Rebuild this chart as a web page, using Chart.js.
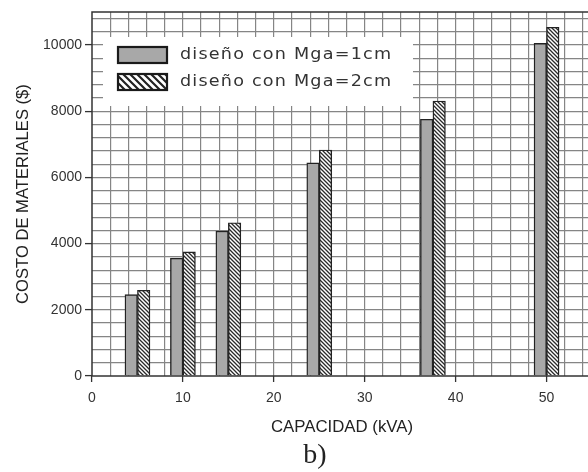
<!DOCTYPE html>
<html><head><meta charset="utf-8">
<script src="https://cdn.jsdelivr.net/npm/chart.js@4/dist/chart.umd.min.js"></script>
<style>
html,body{margin:0;padding:0;overflow:hidden;background:#fff;width:588px;height:472px}
#wrap{width:600px;height:472px;position:relative}
</style></head>
<body><div id="wrap"><canvas id="c" width="600" height="472"></canvas></div>
<script>
// ---- data ----
const capacities = [5, 10, 15, 25, 37.5, 50];
const costMga1 = [2460, 3560, 4380, 6440, 7760, 10050];
const costMga2 = [2590, 3750, 4630, 6830, 8310, 10540];
const seriesNames = ['diseño con Mga=1cm', 'diseño con Mga=2cm'];
const xTickLabels = [0, 10, 20, 30, 40, 50];
const yTickLabels = [0, 2000, 4000, 6000, 8000, 10000];
const xTitle = 'CAPACIDAD (kVA)';
const yTitle = 'COSTO DE MATERIALES ($)';
const caption = 'b)';

const SANS = '"Liberation Sans", Arial, sans-serif';

function hatch(size, lw, color) {
  const c = document.createElement('canvas');
  c.width = size; c.height = size;
  const g = c.getContext('2d');
  g.fillStyle = '#fff'; g.fillRect(0, 0, size, size);
  g.strokeStyle = color; g.lineWidth = lw;
  g.beginPath();
  g.moveTo(-1, -1); g.lineTo(size + 1, size + 1);
  g.moveTo(-1, size - 1); g.lineTo(1, size + 1);
  g.moveTo(size - 1, -1); g.lineTo(size + 1, 1);
  g.stroke();
  return document.getElementById('c').getContext('2d').createPattern(c, 'repeat');
}
const barHatch = hatch(4, 1.3, '#2a2a2a');
const legendHatch = hatch(7, 2.2, '#222');

const frame = {
  id: 'frame',
  afterDatasetsDraw(chart) {
    const {ctx, chartArea: a} = chart;
    ctx.save();
    ctx.strokeStyle = '#333'; ctx.lineWidth = 1.5;
    ctx.strokeRect(a.left, a.top, a.right - a.left, a.bottom - a.top);
    ctx.restore();
  },
  afterDraw(chart) {
    const ctx = chart.ctx;
    ctx.save();
    // legend box
    ctx.fillStyle = '#fff';
    ctx.fillRect(103, 37, 310, 69);
    const fills = ['#a8a8a8', legendHatch];
    const ys = [47, 74];
    for (let i = 0; i < 2; i++) {
      ctx.fillStyle = fills[i];
      ctx.fillRect(118, ys[i], 49, 16);
      ctx.strokeStyle = '#1a1a1a'; ctx.lineWidth = 2.2;
      ctx.strokeRect(118, ys[i], 49, 16);
      const t = seriesNames[i];
      const sx = 1.1;
      ctx.save();
      ctx.font = '16px "DejaVu Sans", sans-serif';
      ctx.textBaseline = 'middle';
      ctx.textAlign = 'left';
      ctx.letterSpacing = '0px';
      const w = ctx.measureText(t).width;
      const sp = Math.max(0, (211 / sx - w) / (t.length - 1));
      ctx.letterSpacing = sp.toFixed(2) + 'px';
      ctx.translate(180, ys[i] + 8);
      ctx.scale(sx, 1);
      ctx.fillStyle = '#333';
      ctx.fillText(t, 0, 0);
      ctx.restore();
    }
    // caption
    ctx.font = '28px "Liberation Serif", "Times New Roman", serif';
    ctx.textAlign = 'center';
    ctx.textBaseline = 'alphabetic';
    ctx.fillStyle = '#222';
    ctx.fillText(caption, 315, 463);
    ctx.restore();
  }
};

const gridColor = '#858585';

new Chart(document.getElementById('c'), {
  type: 'bar',
  data: {
    datasets: [
      {label: seriesNames[0], data: capacities.map((x, i) => ({x, y: costMga1[i]})),
       backgroundColor: '#a8a8a8', borderColor: '#222', borderWidth: 1.4, barThickness: 12.5},
      {label: seriesNames[1], data: capacities.map((x, i) => ({x, y: costMga2[i]})),
       backgroundColor: barHatch, borderColor: '#222', borderWidth: 1.4, barThickness: 12.5}
    ]
  },
  options: {
    responsive: false,
    animation: false,
    devicePixelRatio: 1,
    layout: {padding: {top: 12, right: 3, left: 0, bottom: 0}},
    plugins: {legend: {display: false}, tooltip: {enabled: false}},
    scales: {
      x: {
        type: 'linear', min: 0, max: 55, offset: false,
        afterBuildTicks(s) {
          const t = [];
          for (let v = 0; v <= 54; v += 2) t.push({value: v});
          t.push({value: 55});
          s.ticks = t;
        },
        afterFit(s) { s.height = 96; },
        grid: {
          offset: false, drawOnChartArea: true, drawTicks: true, tickLength: 6,
          color: (c) => (c.tick && (c.tick.value === 0 || c.tick.value === 55)) ? 'rgba(0,0,0,0)' : gridColor,
          lineWidth: 1.2,
          tickColor: (c) => (c.tick && xTickLabels.includes(c.tick.value)) ? '#333' : 'rgba(0,0,0,0)',
          tickWidth: 1.3
        },
        border: {display: false},
        ticks: {
          autoSkip: false, maxRotation: 0, padding: 8, color: '#333',
          font: {family: SANS, size: 14},
          callback: (v) => xTickLabels.includes(v) ? String(v) : ''
        },
        title: {display: true, text: xTitle, color: '#222', font: {family: SANS, size: 16.8},
                padding: {top: 0, bottom: 35}}
      },
      y: {
        type: 'linear', min: 0, max: 11000,
        afterBuildTicks(s) {
          const t = [];
          for (let v = 0; v <= 10800; v += 400) t.push({value: v});
          t.push({value: 11000});
          s.ticks = t;
        },
        afterFit(s) { s.width = 92; },
        grid: {
          drawTicks: true, tickLength: 7,
          color: (c) => (c.tick && (c.tick.value === 0 || c.tick.value === 11000)) ? 'rgba(0,0,0,0)' : gridColor,
          lineWidth: 1.2,
          tickColor: (c) => (c.tick && yTickLabels.includes(c.tick.value)) ? '#333' : 'rgba(0,0,0,0)',
          tickWidth: 1.3
        },
        border: {display: false},
        ticks: {
          autoSkip: false, padding: 3, color: '#333',
          font: {family: SANS, size: 14},
          callback: (v) => yTickLabels.includes(v) ? String(v) : ''
        },
        title: {display: true, text: yTitle, color: '#222', font: {family: SANS, size: 16.6},
                padding: {top: 13, bottom: 0}}
      }
    }
  },
  plugins: [frame]
});
</script>
</body></html>
